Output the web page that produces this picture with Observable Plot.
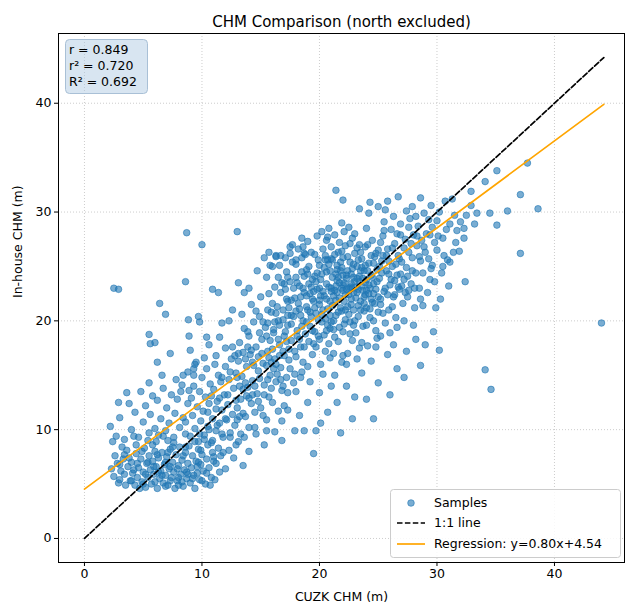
<!DOCTYPE html>
<html>
<head>
<meta charset="utf-8">
<script src="https://cdn.jsdelivr.net/npm/d3@7"></script>
<script src="https://cdn.jsdelivr.net/npm/@observablehq/plot@0.6"></script>
<style>
  html, body { margin: 0; padding: 0; background: #fff; }
  #chart { width: 626px; height: 607px; }
</style>
</head>
<body>
<div id="chart"></div>
<script>
// ---- Data ----
const titleText = "CHM Comparison (north excluded)";
const xLabel = "CUZK CHM (m)";
const yLabel = "In-house CHM (m)";
const tickValues = [0, 10, 20, 30, 40];
const statLines = ["r = 0.849", "r\u00B2 = 0.720", "R\u00B2 = 0.692"];
const legendLabels = ["Samples", "1:1 line", "Regression: y=0.80x+4.54"];
const regSlope = 0.80;
const regIntercept = 4.54;
const lineXRange = [0, 44.2];

// samples: [CUZK CHM, In-house CHM]
const lowCluster = [[2.3,6.4],[2.5,5.7],[2.6,7.6],[2.8,6.9],[3.0,5.4],[3.1,6.2],[3.3,7.3],[3.4,5.9],[3.6,8.1],[3.7,6.6],[3.9,5.3],[4.0,7.0],[4.1,6.0],[4.3,4.9],[4.4,7.8],[4.5,5.6],[4.6,6.5],[4.8,7.3],[4.9,5.2],[5.0,6.1],[5.1,8.3],[5.2,4.7],[5.3,6.9],[5.4,5.6],[5.5,7.6],[5.6,6.3],[5.7,5.0],[5.8,7.1],[5.9,5.9],[6.0,8.0],[6.1,6.6],[6.2,4.6],[6.3,7.4],[6.4,5.5],[6.5,6.2],[6.6,7.9],[6.7,5.1],[6.8,6.8],[6.9,5.8],[7.0,7.5],[7.1,4.9],[7.2,6.4],[7.3,8.2],[7.4,5.6],[7.5,7.0],[7.6,6.1],[7.7,4.6],[7.8,7.7],[7.9,5.3],[8.0,6.7],[8.1,8.4],[8.2,5.9],[8.3,7.2],[8.4,4.8],[8.5,6.3],[8.6,7.9],[8.7,5.5],[8.8,6.9],[8.9,8.5],[9.0,5.1],[9.1,6.5],[9.2,7.6],[9.3,5.8],[9.4,4.6],[9.5,7.1],[9.6,6.0],[9.7,8.2],[9.8,5.4],[9.9,6.8],[10.0,7.7],[10.1,6.2],[10.3,5.0],[10.4,7.3],[10.5,8.6],[10.6,6.5],[10.8,5.6],[10.9,7.9],[11.1,5.4],[11.2,6.9],[11.4,8.3],[3.5,4.9],[4.7,4.6],[6.0,5.2],[7.3,5.3],[8.0,4.9],[8.7,6.1],[5.4,7.0],[6.3,6.1],[7.9,6.4],[9.7,7.0],[4.2,6.3],[6.9,7.0],[5.8,8.6],[7.6,8.8],[3.2,8.4],[2.4,8.9],[9.4,8.9],[10.2,9.1],[11.6,7.6],[12.0,6.4],[12.3,8.1]];
const lowDense = [[3.0,6.8],[3.8,7.4],[4.5,6.9],[5.2,5.9],[5.9,6.6],[6.6,5.8],[7.3,6.6],[8.0,5.6],[8.8,5.9],[9.6,6.6],[10.4,6.0],[11.0,7.5],[4.9,8.0],[6.2,7.7],[7.5,8.4],[8.6,8.4],[9.9,8.1],[10.9,9.0],[11.7,9.6],[12.4,9.3],[12.9,8.6],[6.7,9.4],[5.5,9.7],[4.2,9.4],[3.4,7.7],[2.9,5.1],[4.0,5.3],[5.0,5.0],[6.9,4.8],[8.3,5.2],[9.2,5.5],[10.0,5.3],[10.7,4.9],[11.5,6.1],[7.1,7.9],[8.4,7.6],[9.8,9.6],[10.6,10.0],[11.3,10.4],[12.0,11.0]];
const leftBand = [[2.2,10.3],[2.7,9.4],[3.0,11.1],[3.4,9.1],[3.8,12.4],[4.0,10.0],[4.3,11.6],[4.6,9.3],[4.8,13.5],[5.0,10.7],[5.2,12.2],[5.4,9.0],[5.6,11.4],[5.8,13.1],[6.0,10.1],[6.2,12.7],[6.3,9.5],[6.5,11.0],[6.7,13.8],[6.9,9.9],[7.0,12.0],[7.2,10.6],[7.4,13.2],[7.6,9.3],[7.7,11.5],[7.9,12.8],[8.1,10.2],[8.3,14.1],[8.4,11.1],[8.6,9.6],[8.8,12.4],[3.6,13.4],[5.5,14.3],[4.4,8.6],[6.1,8.9],[7.1,9.0],[2.9,12.5],[6.6,15.0],[7.8,14.6],[8.9,13.6]];
const midLow = [[8.6,10.7],[8.8,15.3],[9.0,9.4],[9.1,12.9],[9.2,11.3],[9.3,14.0],[9.4,10.1],[9.5,16.2],[9.6,12.1],[9.7,8.9],[9.8,13.5],[9.9,10.8],[10.0,14.8],[10.1,11.7],[10.2,9.5],[10.3,13.0],[10.4,15.6],[10.5,10.3],[10.6,12.4],[10.7,14.2],[10.8,8.8],[10.9,11.0],[11.0,13.7],[11.1,16.0],[11.2,9.9],[11.3,12.6],[11.4,15.0],[11.5,10.6],[11.6,14.4],[11.7,11.8],[11.8,9.3],[11.9,13.2],[12.0,15.8],[12.1,10.9],[12.2,12.3],[12.3,14.6],[12.4,9.7],[12.5,16.5],[12.6,11.4],[12.7,13.8],[12.8,10.4],[12.9,15.2],[13.0,12.0],[13.1,8.9],[13.2,14.0],[11.0,7.1],[11.8,7.9],[12.7,7.4],[13.3,9.6],[13.0,10.9],[10.2,16.6],[9.3,15.6],[9.0,17.3],[10.6,17.8],[11.5,18.5],[8.9,18.6],[9.8,19.9],[13.5,11.5],[13.8,13.1],[13.6,9.3]];
const midBand = [[13.1,16.3],[13.2,18.0],[13.3,12.8],[13.4,14.9],[13.5,17.1],[13.6,19.3],[13.7,11.2],[13.8,15.8],[13.9,13.9],[14.0,18.6],[14.0,10.2],[14.1,16.9],[14.2,12.4],[14.3,14.5],[14.4,19.9],[14.5,11.6],[14.6,17.6],[14.7,13.3],[14.8,15.4],[14.9,20.4],[15.0,12.0],[15.1,18.3],[15.2,16.1],[15.3,14.1],[15.4,19.4],[15.5,10.9],[15.6,17.2],[15.7,13.0],[15.8,15.0],[15.9,20.8],[16.0,12.5],[16.1,18.9],[16.2,16.5],[16.3,14.4],[16.4,21.3],[16.5,11.7],[16.6,17.8],[16.7,15.7],[16.8,13.6],[16.9,20.1],[17.0,16.8],[17.1,19.0],[17.2,14.8],[17.3,21.8],[13.4,20.6],[14.2,21.5],[15.0,22.2],[15.6,21.0],[14.6,9.6],[15.3,8.6],[14.0,8.0],[13.5,6.7],[16.2,9.8],[16.8,10.8],[17.0,12.2],[14.8,16.7],[15.5,15.9],[16.0,17.4],[13.9,17.6],[14.4,15.9],[15.9,13.8],[16.6,19.6],[17.2,18.1],[15.2,19.9],[14.3,13.2],[13.1,17.0],[16.4,15.1],[17.4,17.4],[17.5,15.6],[15.8,18.2],[16.9,14.0],[14.9,14.7],[13.7,14.3],[16.3,20.7],[17.6,20.5]];
const midDense = [[12.2,13.2],[13.0,14.8],[13.7,16.5],[14.5,14.0],[15.1,17.0],[15.9,16.2],[16.5,18.3],[12.8,16.8],[13.5,13.7],[14.2,17.3],[14.9,18.9],[15.6,14.6],[16.3,16.0],[16.9,17.2],[11.5,12.9],[12.4,15.3],[13.2,11.2],[14.0,12.9],[14.8,12.6],[15.3,13.2],[16.1,15.6],[16.7,14.6],[17.0,18.6],[10.8,13.1],[11.7,14.8],[12.6,17.6],[13.9,19.0],[14.6,20.9],[15.5,18.6],[16.2,19.9],[11.2,11.9],[10.5,11.6],[12.9,12.7],[14.3,16.2],[15.7,16.6],[16.6,16.8],[17.3,13.4],[17.8,14.3],[18.4,14.8],[15.2,11.3]];
const coreLeft = [[17.1,22.9],[17.2,24.5],[17.3,19.6],[17.4,21.2],[17.5,23.6],[17.6,18.2],[17.7,25.4],[17.8,20.4],[17.9,22.1],[18.0,16.7],[18.0,24.0],[18.1,19.1],[18.2,21.6],[18.3,23.2],[18.4,17.6],[18.5,25.8],[18.6,20.0],[18.7,22.6],[18.8,18.8],[18.9,24.7],[19.0,21.0],[19.0,15.8],[19.1,23.4],[19.2,19.5],[19.3,26.3],[19.4,22.0],[19.5,17.9],[19.6,24.1],[19.7,20.7],[19.8,22.9],[19.9,18.6],[20.0,25.1],[20.0,21.5],[20.1,23.8],[20.2,19.9],[20.3,26.6],[20.4,22.3],[20.5,17.2],[20.6,24.5],[20.7,21.1],[20.8,23.1],[20.9,19.3],[21.0,25.7],[21.0,22.7],[17.4,16.4],[17.9,15.1],[18.6,16.2],[19.4,16.9],[20.1,16.0],[20.8,17.9],[18.2,26.6],[19.0,27.3],[17.7,27.0],[19.8,27.8],[20.6,27.4],[18.4,22.2],[18.9,21.3],[19.3,20.4],[19.7,23.6],[20.3,21.0],[20.6,22.0],[19.1,25.0],[18.0,20.9],[17.6,21.9],[18.7,24.1],[19.5,21.8],[20.2,24.3],[20.9,20.5],[19.9,20.1],[18.5,19.5],[17.3,20.5],[18.3,18.3],[19.6,19.0],[20.4,18.7],[21.0,19.9],[18.1,23.5],[19.2,22.5],[20.0,23.0],[20.7,25.6],[17.0,23.4],[16.7,22.6],[16.5,24.0],[16.2,23.1],[16.0,25.0],[15.5,24.0],[16.3,26.0],[15.7,22.5],[17.5,26.2],[18.8,26.1],[20.5,26.0]];
const coreRight = [[21.1,21.4],[21.1,24.0],[21.2,19.2],[21.3,22.8],[21.3,26.1],[21.4,20.5],[21.5,23.7],[21.5,25.1],[21.6,18.1],[21.7,22.1],[21.7,27.2],[21.8,24.6],[21.9,20.9],[22.0,23.3],[22.0,25.8],[22.1,19.7],[22.2,22.4],[22.2,26.9],[22.3,24.2],[22.4,21.3],[22.4,17.0],[22.5,23.0],[22.6,25.4],[22.6,19.9],[22.7,22.0],[22.8,27.6],[22.8,24.8],[22.9,21.0],[23.0,23.6],[23.0,26.2],[23.1,18.9],[23.2,22.6],[23.2,25.0],[23.3,20.4],[23.4,24.1],[23.4,27.0],[23.5,21.8],[23.6,23.2],[23.6,25.7],[23.7,19.5],[23.8,22.2],[23.8,24.6],[23.9,26.8],[24.0,21.2],[24.0,23.8],[24.1,17.7],[24.2,25.3],[24.2,22.5],[24.3,20.3],[24.4,24.2],[24.5,27.4],[24.5,21.7],[24.6,23.4],[24.7,25.9],[24.8,19.1],[24.8,22.9],[24.9,24.7],[25.0,20.8],[25.0,26.5],[21.2,22.3],[21.6,24.0],[21.9,23.0],[22.1,21.8],[22.3,23.9],[22.5,22.4],[22.7,23.4],[22.9,24.0],[23.1,23.1],[23.3,21.4],[23.5,24.6],[23.7,22.8],[23.9,23.5],[21.4,21.9],[21.8,25.4],[22.4,25.9],[22.9,22.6],[23.3,25.6],[24.1,24.6],[24.4,22.0],[21.0,23.0],[21.5,24.7],[22.0,22.8],[22.6,23.1],[23.2,23.9],[23.8,21.6],[24.3,23.0],[21.3,27.9],[22.1,28.2],[23.0,28.0],[24.0,28.5],[21.9,29.0],[20.8,28.5],[21.2,17.0],[22.8,18.2],[23.6,18.0],[21.9,16.2],[22.5,20.6],[24.6,20.0],[25.0,22.2],[21.7,19.4],[20.9,24.6],[22.9,19.6]];
const coreDense = [[19.3,23.1],[20.6,23.4],[21.8,21.2],[22.4,24.6],[23.1,22.1],[20.2,20.6],[21.5,22.6],[22.9,25.2],[24.2,23.3],[19.8,24.4],[18.6,23.0],[21.1,25.6],[22.2,20.1],[23.6,24.9],[24.9,23.6],[20.9,21.8],[19.5,22.7],[22.7,21.5],[23.9,22.4],[21.4,24.3],[20.4,24.9],[18.9,22.3],[22.1,23.5],[23.4,23.6],[24.6,25.3],[25.3,24.4],[25.9,25.5],[26.4,23.7],[25.6,23.0],[26.8,25.7],[20.1,22.3],[21.6,20.8],[22.8,23.0],[24.0,22.8],[19.0,24.3],[20.7,19.6],[21.9,26.4],[23.5,26.3],[24.8,26.2],[26.2,26.7],[18.3,21.1],[19.6,21.2],[17.8,23.0],[17.2,22.0],[18.5,24.5],[16.9,21.0],[17.6,19.7],[18.9,19.9],[20.3,22.7],[21.7,23.5],[22.3,22.9],[23.7,23.9],[24.5,24.0],[25.1,25.0],[25.7,26.0],[26.5,25.2],[27.2,26.7],[27.8,27.1],[28.3,27.8],[28.9,26.8],[29.4,27.9],[26.9,27.9],[25.2,27.2],[24.1,27.0],[22.6,27.1],[21.0,26.8],[19.6,26.1],[18.0,25.2],[17.3,24.0],[19.2,20.8],[20.5,20.2],[21.2,20.0],[22.0,19.0],[23.0,20.0],[24.0,19.6],[25.4,20.7],[26.2,21.3],[27.3,22.6],[27.9,24.6],[28.5,25.9],[29.6,25.1],[30.1,27.8],[30.8,28.4],[31.6,27.2],[18.4,20.5],[19.4,19.1],[20.0,18.3],[21.3,18.5],[22.6,18.8],[23.8,20.9],[24.7,21.6],[25.8,22.4],[26.7,23.1],[23.3,22.9],[22.0,24.2],[20.8,25.2],[19.9,25.6],[21.6,26.3],[23.2,26.7],[24.4,26.0],[25.5,28.3],[26.6,28.0],[27.6,28.6],[28.2,29.6],[29.3,29.3],[22.5,28.6],[20.2,28.2],[18.5,27.6],[17.1,25.8],[16.5,20.0],[16.1,19.2],[15.6,19.8],[16.0,21.6],[16.8,23.5],[17.9,17.2],[18.7,17.6],[19.7,17.6],[20.9,16.6],[22.3,16.0],[23.4,17.5],[24.9,18.4],[19.1,18.1],[18.1,18.6],[20.6,19.1],[21.4,23.2],[22.7,24.3],[23.9,25.1],[24.6,22.5],[25.9,24.3],[26.4,22.4],[27.0,23.2],[27.5,24.1],[28.1,23.0],[28.6,22.0],[29.4,23.8],[30.5,25.0],[31.4,26.3],[32.0,29.1],[33.2,28.9],[22.2,21.0],[20.0,21.9],[19.4,23.8],[21.9,24.9],[23.5,21.0],[24.3,21.1],[25.2,22.0]];
const upperBand = [[25.1,23.9],[25.2,21.5],[25.3,25.5],[25.4,27.8],[25.5,22.7],[25.6,19.8],[25.7,24.6],[25.8,26.6],[25.9,21.0],[26.0,23.3],[26.1,28.4],[26.2,25.0],[26.3,22.2],[26.4,27.1],[26.5,20.3],[26.6,24.2],[26.7,26.0],[26.8,22.9],[26.9,28.9],[27.0,25.4],[27.1,21.6],[27.2,23.8],[27.3,27.5],[27.4,24.9],[27.5,22.2],[27.6,26.3],[27.7,29.4],[27.8,23.4],[27.9,25.8],[28.0,27.9],[28.1,21.2],[28.2,24.4],[28.3,26.9],[28.4,28.7],[28.5,23.0],[28.6,25.5],[28.7,27.4],[28.8,24.4],[28.9,29.9],[29.0,26.3],[25.2,18.6],[26.0,18.9],[26.6,19.4],[27.2,20.0],[28.0,19.6],[28.8,21.4],[29.2,22.6],[29.5,24.8],[29.1,28.0],[25.5,29.1],[26.3,29.6],[27.4,30.1],[25.0,30.5],[24.2,29.9],[23.4,30.3],[25.8,31.0],[22.0,31.1],[21.4,32.0],[24.3,30.9],[25.6,30.2],[26.7,31.4],[27.9,30.5],[28.6,31.3],[29.5,30.6],[29.8,27.2],[30.0,29.2],[25.4,26.0],[26.1,23.8],[26.9,24.3],[27.6,22.8]];
const highTail = [[29.3,25.7],[29.6,28.6],[29.8,23.6],[30.0,26.5],[30.2,30.0],[30.4,24.4],[30.5,27.6],[30.7,31.0],[30.9,25.6],[31.1,28.9],[31.1,25.4],[31.3,31.2],[31.5,29.7],[31.7,28.3],[31.9,26.4],[32.3,27.6],[32.3,28.5],[32.5,29.7],[32.9,30.6],[32.9,31.9],[33.4,29.9],[34.1,32.8],[34.5,29.9],[35.1,33.8],[35.1,28.8],[36.0,30.1],[37.1,31.6],[37.7,34.5],[38.6,30.3],[37.1,26.2],[32.4,23.6],[30.3,22.0],[29.9,21.2],[31.0,23.2],[30.6,26.0]];
const underEstimates = [[17.9,9.9],[18.7,9.9],[19.5,7.8],[19.7,9.9],[15.5,9.9],[14.5,10.2],[18.3,11.3],[19.0,12.5],[20.0,13.4],[20.7,11.6],[21.5,12.5],[22.3,14.0],[23.0,13.0],[23.6,15.2],[24.4,16.3],[25.0,14.3],[25.8,16.9],[26.6,15.6],[27.4,17.2],[28.2,18.3],[29.0,17.8],[29.7,19.0],[21.3,15.0],[22.0,16.8],[23.2,16.5],[24.8,17.6],[20.3,15.1],[19.2,14.4],[18.0,13.5],[17.3,11.8],[18.5,15.3],[21.0,14.0],[22.8,11.0],[24.0,12.8],[26.0,13.2],[27.2,14.8],[28.6,15.9],[30.2,17.3],[26.3,17.8],[20.1,10.6],[16.8,9.0],[21.8,9.7],[24.6,11.0],[34.1,15.5],[34.6,13.7],[44.0,19.8]];
const overEstimates = [[2.5,23.0],[2.9,22.9],[8.6,23.6],[6.4,21.6],[6.9,20.6],[8.85,20.1],[9.7,20.4],[5.5,18.75],[5.6,17.9],[6.0,18.0],[9.4,16.0],[9.3,15.0],[8.4,15.0],[8.2,13.5],[8.7,28.1],[10.0,27.0],[13.0,28.2],[10.9,22.9],[11.4,22.6],[12.6,21.0],[13.6,22.6],[11.7,19.8],[12.3,20.0],[10.4,18.5],[7.3,17.0],[6.2,16.2],[12.0,17.5],[11.2,16.8],[13.1,23.5],[14.0,23.0],[14.7,24.6],[15.3,25.8],[15.7,26.3],[16.3,25.9],[16.7,26.0],[17.5,26.8],[18.6,26.8],[18.7,26.2],[16.6,25.1],[15.8,25.1],[18.0,25.6],[20.5,25.6],[20.7,27.7]];

const samples = [...lowCluster, ...lowDense, ...leftBand, ...midLow, ...midBand, ...midDense, ...coreLeft, ...coreRight, ...coreDense, ...upperBand, ...highTail, ...underEstimates, ...overEstimates]
  .map(([x, y]) => ({x, y}));
const oneToOne = lineXRange.map(v => ({x: v, y: v}));
const regLine = lineXRange.map(v => ({x: v, y: regSlope * v + regIntercept}));

// ---- Layout ----
const W = 626, H = 607;
const mL = 58, mR = 2, mT = 33, mB = 45;
const FONT = "DejaVu Sans";
const BLUE = "#1f77b4";

const chart = Plot.plot({
  width: W, height: H,
  marginLeft: mL, marginRight: mR, marginTop: mT, marginBottom: mB,
  style: {fontFamily: FONT, fontSize: "12.5px", background: "white", color: "black", overflow: "visible"},
  x: {domain: [-2.21, 45.96], ticks: tickValues, label: null},
  y: {domain: [-2.21, 46.41], ticks: tickValues, label: null},
  marks: [
    Plot.gridX(tickValues, {stroke: "#b0b0b0", strokeOpacity: 0.8, strokeDasharray: "1,2", strokeWidth: 0.8}),
    Plot.gridY(tickValues, {stroke: "#b0b0b0", strokeOpacity: 0.8, strokeDasharray: "1,2", strokeWidth: 0.8}),
    Plot.axisX(tickValues, {tickSize: 4, tickPadding: 3, fontSize: 12.5, label: null}),
    Plot.axisY(tickValues, {tickSize: 4, tickPadding: 3, fontSize: 12.5, label: null}),
    Plot.dot(samples, {x: "x", y: "y", r: 3.3, fill: BLUE, fillOpacity: 0.6, stroke: BLUE, strokeOpacity: 0.6, strokeWidth: 1}),
    Plot.line(oneToOne, {x: "x", y: "y", stroke: "black", strokeWidth: 1.7, strokeDasharray: "5.5,2.4"}),
    Plot.line(regLine, {x: "x", y: "y", stroke: "orange", strokeWidth: 1.7}),
    Plot.frame({stroke: "black", strokeWidth: 1}),
    Plot.text([titleText], {frameAnchor: "top", dy: -17, text: d => d, fontSize: 15}),
    Plot.text([xLabel], {frameAnchor: "bottom", dy: 38, text: d => d, fontSize: 12.5}),
    Plot.text([yLabel], {frameAnchor: "left", dx: -41, rotate: -90, text: d => d, fontSize: 12.5})
  ]
});
document.getElementById("chart").appendChild(chart);

// ---- Stats box and legend (decoration) ----
const svg = d3.select(chart);
const stats = svg.append("g").attr("text-anchor", "start");
stats.append("rect").attr("x", 65.5).attr("y", 39.5).attr("width", 82).attr("height", 54).attr("rx", 4)
  .attr("fill", "#a9c6e0").attr("fill-opacity", 0.45).attr("stroke", "#a9c0d6").attr("stroke-width", 1);
stats.selectAll("text").data(statLines).join("text")
  .attr("x", 69).attr("y", (d, i) => 54 + i * 16)
  .attr("text-anchor", "start")
  .attr("font-family", FONT).attr("font-size", 12.5).attr("fill", "black").text(d => d);

const lg = svg.append("g").attr("text-anchor", "start");
lg.append("rect").attr("x", 390.5).attr("y", 489.5).attr("width", 230).attr("height", 68).attr("rx", 3)
  .attr("fill", "white").attr("fill-opacity", 0.85).attr("stroke", "#cccccc").attr("stroke-width", 1);
const rowsY = [503, 523, 544];
lg.append("circle").attr("cx", 411).attr("cy", rowsY[0]).attr("r", 3.3)
  .attr("fill", BLUE).attr("fill-opacity", 0.6).attr("stroke", BLUE).attr("stroke-opacity", 0.6);
lg.append("line").attr("x1", 397).attr("x2", 425).attr("y1", rowsY[1]).attr("y2", rowsY[1])
  .attr("stroke", "black").attr("stroke-width", 1.7).attr("stroke-dasharray", "5.5,2.4");
lg.append("line").attr("x1", 397).attr("x2", 425).attr("y1", rowsY[2]).attr("y2", rowsY[2])
  .attr("stroke", "orange").attr("stroke-width", 1.7);
lg.selectAll("text").data(legendLabels).join("text")
  .attr("x", 434).attr("y", (d, i) => rowsY[i]).attr("dy", "0.35em")
  .attr("text-anchor", "start")
  .attr("font-family", FONT).attr("font-size", 12.5).attr("fill", "black").text(d => d);
</script>
</body>
</html>
